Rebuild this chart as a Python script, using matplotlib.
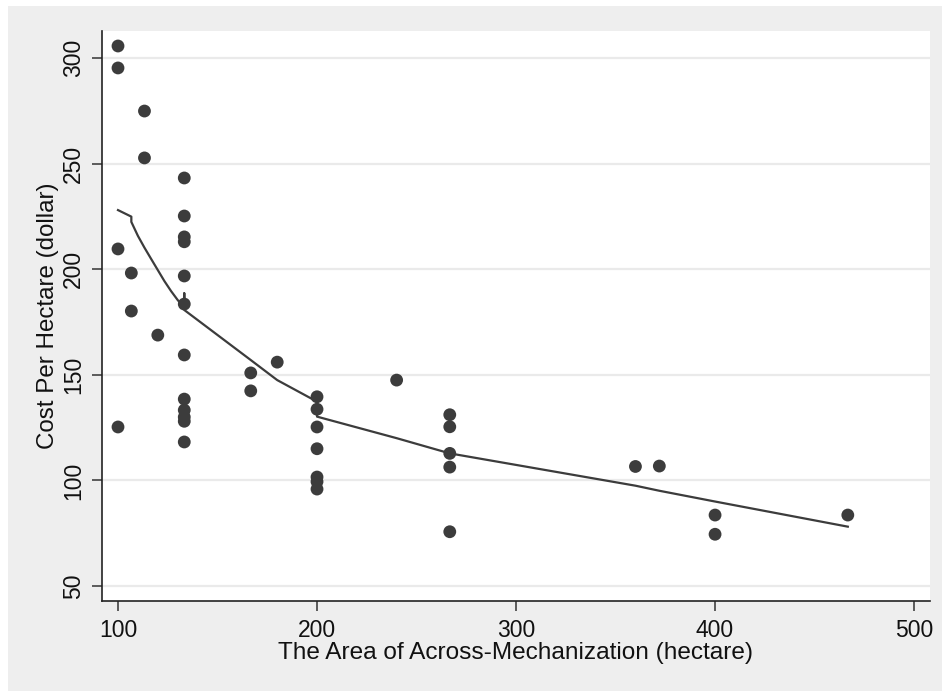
import matplotlib
matplotlib.use("Agg")
import matplotlib.pyplot as plt
from matplotlib.patches import Rectangle

# Data
area = [100, 100, 113.3, 113.3, 100, 106.7, 106.7, 120, 100,
        133.3, 133.3, 133.3, 133.3, 133.3, 133.3, 133.3, 133.3, 133.3, 133.3, 133.3, 133.3,
        166.7, 166.7, 180,
        200, 200, 200, 200, 200, 200, 200,
        240,
        266.7, 266.7, 266.7, 266.7, 266.7,
        360, 372, 400, 400, 466.7]
cost = [305.7, 295.3, 274.9, 252.7, 209.6, 198.2, 180.2, 168.8, 125.3,
        243.2, 225.2, 215.3, 213.0, 196.8, 183.5, 159.4, 138.5, 133.3, 130.0, 128.0, 118.2,
        150.9, 142.4, 156.0,
        139.6, 133.7, 125.3, 115.0, 101.6, 99.4, 95.9,
        147.5,
        131.1, 125.4, 112.8, 106.3, 75.7,
        106.6, 106.8, 83.6, 74.5, 83.6]

fit_x = [100, 106.7, 106.7, 110, 113.3, 116.7, 120, 123.3, 126.7, 130, 133.3, 133.3, 133.3,
         166.7, 180, 200, 200, 240, 266.7, 360, 372, 400, 466.7]
fit_y = [228.0, 224.9, 222.4, 215.8, 210.2, 204.8, 199.6, 194.4, 189.6, 185.4, 181.8, 188.6, 180.7,
         157.0, 147.5, 137.3, 130.2, 120.0, 112.8, 97.5, 95.1, 90.0, 78.1]

xticks = [100, 200, 300, 400, 500]
yticks = [50, 100, 150, 200, 250, 300]

plt.rcParams['font.family'] = ['Liberation Sans', 'DejaVu Sans']

W, H = 942, 691
fig = plt.figure(figsize=(W / 100, H / 100), dpi=100)
fig.patch.set_facecolor('white')
# gray outer region
fig.patches.append(Rectangle((8 / W, 0), 1 - 8 / W, 1 - 6 / H, transform=fig.transFigure,
                             facecolor='#eeeeee', edgecolor='none', zorder=-10))

ax = fig.add_axes([102 / W, 1 - 601 / H, (930 - 102) / W, (601 - 31) / H])
ax.set_zorder(1)
ax.set_facecolor('white')

dark = '#3c3c3c'
ax.scatter(area, cost, s=85, color=dark, edgecolors='none', zorder=3)
ax.plot(fit_x, fit_y, color=dark, lw=1.6, zorder=4)

ax.set_xlim(91.96, 508.0)
ax.set_ylim(42.9, 312.8)
ax.set_xticks(xticks)
ax.set_yticks(yticks)
ax.set_yticklabels([str(v) for v in yticks], rotation=90, va='center')
ax.grid(axis='y', color='#eaeaea', lw=1.6)
ax.set_axisbelow(True)

for s in ['top', 'right']:
    ax.spines[s].set_visible(False)
for s in ['left', 'bottom']:
    ax.spines[s].set_color('#222222')
    ax.spines[s].set_linewidth(1.2)

ax.tick_params(axis='both', length=7, width=1.1, color='#333333', labelsize=16.5, labelcolor='#111111')
ax.tick_params(axis='x', pad=6)
ax.tick_params(axis='y', pad=5)

ax.set_xlabel('The Area of Across-Mechanization (hectare)', fontsize=17.6, color='#111111', labelpad=0)
ax.set_ylabel('Cost Per Hectare (dollar)', fontsize=17.4, color='#111111')
ax.yaxis.set_label_coords(-0.0525, 0.5)

fig.savefig('out.png', dpi=100)
